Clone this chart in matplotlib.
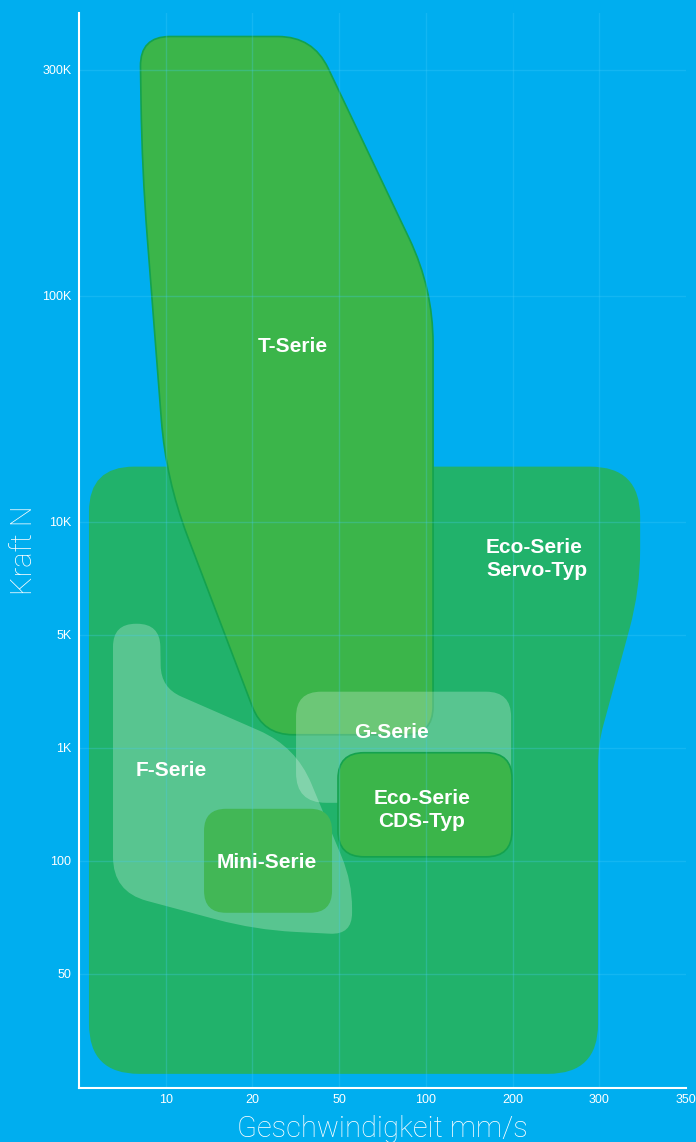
import numpy as np
import matplotlib
matplotlib.use("Agg")
import matplotlib.pyplot as plt
from matplotlib.path import Path
from matplotlib.patches import PathPatch

# ---------------- data ----------------
speed_labels = ["10", "20", "50", "100", "200", "300", "350"]
speed_pos = [1, 2, 3, 4, 5, 6, 7]
force_labels = ["50", "100", "1K", "5K", "10K", "100K", "300K"]
force_pos = [0, 1, 2, 3, 4, 6, 8]

# region outlines in (speed index, force index)
servo_x = [0.115, 6.471, 6.471, 5.986, 5.986, 0.115]
servo_y = [4.487, 4.487, 3.398, 2.027, -0.885, -0.885]
t_x = [0.704, 2.699, 4.083, 4.083, 2.122, 1.003, 0.727]
t_y = [8.292, 8.292, 6.062, 2.115, 2.115, 4.372, 7.115]
f_x = [0.392, 0.934, 0.946, 2.503, 3.149, 3.149, 2.030, 0.392]
f_y = [3.097, 3.097, 2.531, 2.009, 0.814, 0.345, 0.389, 0.726]
g_x = [2.503, 4.983]
g_y = [1.513, 2.496]
mini_x = [1.442, 2.918]
mini_y = [0.540, 1.460]
cds_x = [2.987, 4.994]
cds_y = [1.035, 1.956]

labels = ["T-Serie", "Eco-Serie\nServo-Typ", "G-Serie", "F-Serie", "Mini-Serie", "Eco-Serie\nCDS-Typ"]
label_x = [2.468, 4.694, 3.599, 1.061, 2.168, 3.956]
label_y = [5.55, 3.673, 2.135, 1.80, 0.985, 1.451]
label_ha = ["center", "left", "center", "center", "center", "center"]

# ---------------- style ----------------
BG = "#00AEEF"
SERVO = "#21B26B"
TCOL = "#3BB54A"
EDGE = "#14A24E"
MINI = "#42B756"

W, H = 696, 1142
fig = plt.figure(figsize=(W / 100, H / 100), dpi=100, facecolor=BG)
ax = fig.add_axes([79 / W, 54 / H, 607 / W, 1075 / H], facecolor=BG)
ax.set_xlim(0, 7.0)
ax.set_ylim(-1.01, 8.5)


def rounded_path(xs, ys, radii):
    pts = ax.transData.transform(np.column_stack([xs, ys]))
    n = len(pts)
    verts, codes = [], []
    for i in range(n):
        v = pts[i]
        p0 = pts[i - 1]
        p2 = pts[(i + 1) % n]
        d0 = p0 - v
        d2 = p2 - v
        l0 = np.hypot(*d0)
        l2 = np.hypot(*d2)
        r = min(radii[i], l0 / 2, l2 / 2)
        a = v + d0 / l0 * r
        b = v + d2 / l2 * r
        if i == 0:
            verts.append(a); codes.append(Path.MOVETO)
        else:
            verts.append(a); codes.append(Path.LINETO)
        verts += [v, b]
        codes += [Path.CURVE3, Path.CURVE3]
    verts.append(verts[0]); codes.append(Path.CLOSEPOLY)
    verts = ax.transData.inverted().transform(np.array(verts))
    return Path(verts, codes)


def rect_xy(xr, yr):
    return [xr[0], xr[1], xr[1], xr[0]], [yr[1], yr[1], yr[0], yr[0]]


def add_region(xs, ys, radii, z, **kw):
    ax.add_patch(PathPatch(rounded_path(xs, ys, radii), zorder=z, **kw))


add_region(servo_x, servo_y, [45, 50, 40, 20, 50, 50], 1.0, facecolor=SERVO, edgecolor="none")
add_region(t_x, t_y, [30, 35, 55, 28, 30, 60, 80], 1.1, facecolor=TCOL, edgecolor=EDGE, linewidth=1.2)
add_region(f_x, f_y, [23, 23, 22, 40, 30, 22, 40, 35], 1.2, facecolor="white", alpha=0.25, edgecolor="none")
gx, gy = rect_xy(g_x, g_y)
add_region(gx, gy, [25, 25, 25, 30], 1.3, facecolor="white", alpha=0.25, edgecolor="none")
mx, my = rect_xy(mini_x, mini_y)
add_region(mx, my, [22, 22, 22, 22], 1.4, facecolor=MINI, edgecolor="none")
cx, cy = rect_xy(cds_x, cds_y)
add_region(cx, cy, [26, 26, 26, 26], 1.5, facecolor=TCOL, edgecolor=EDGE, linewidth=1.2)

# grid lines drawn over regions
for p in force_pos:
    ax.axhline(p, color="#45CCFA", alpha=0.28, lw=1.0, zorder=2)
for p in speed_pos[:-1]:
    ax.axvline(p, color="#45CCFA", alpha=0.28, lw=1.0, zorder=2)

for t, x, y, ha in zip(labels, label_x, label_y, label_ha):
    ax.text(x, y, t, ha=ha, va="center", color="white", fontsize=15,
            fontweight="bold", family="Liberation Sans", linespacing=1.25, zorder=3)

ax.set_xticks(speed_pos, speed_labels)
ax.set_yticks(force_pos, force_labels)
ax.tick_params(length=0, colors="white", labelsize=9)
ax.tick_params(axis="x", pad=4)
ax.tick_params(axis="y", pad=5.5)
for lab in ax.get_xticklabels() + ax.get_yticklabels():
    lab.set_family("Liberation Sans")

for s in ["top", "right"]:
    ax.spines[s].set_visible(False)
for s in ["left", "bottom"]:
    ax.spines[s].set_color("white")
    ax.spines[s].set_linewidth(1.5)

ax.set_xlabel("Geschwindigkeit mm/s", color="white", fontsize=21, family=["Roboto", "DejaVu Sans"],
              fontweight="light", labelpad=7)
ax.set_ylabel("Kraft N", color="white", fontsize=21, family=["Roboto", "DejaVu Sans"],
              fontweight="light", labelpad=3)

fig.savefig("out.png", dpi=100, facecolor=BG)
